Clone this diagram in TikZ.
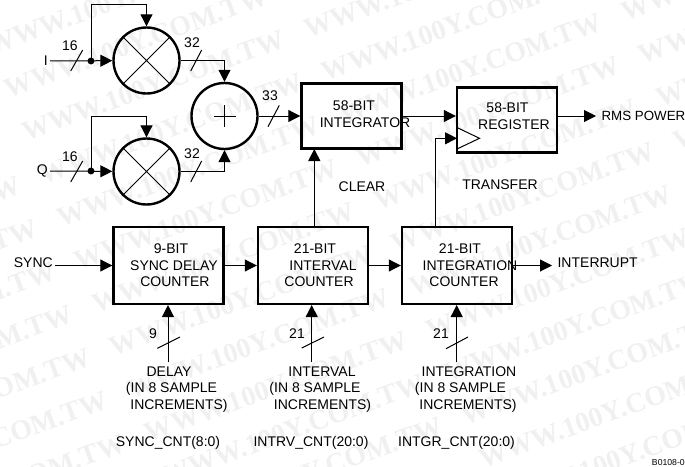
\documentclass[tikz,border=0pt]{standalone}
\usepackage{fontspec}
\setmainfont{Liberation Sans}
\newfontfamily\markfont{Liberation Serif}
\usetikzlibrary{arrows.meta}
\definecolor{markgray}{HTML}{F0F0F0}
\tikzset{
  blk/.style={draw,line width=1.8pt,inner sep=0pt},
  sumcirc/.style={draw,circle,line width=1.8pt,minimum size=49.5pt,inner sep=0pt},
  lbl/.style={inner sep=1.5pt},
  sig/.style={-{Triangle[length=9pt,width=9pt]},line width=.75pt},
  wire/.style={line width=.75pt},
  wmark/.style={markgray,rotate=20,anchor=west,inner sep=0pt,font=\markfont\bfseries\fontsize{21pt}{24pt}\selectfont}
}
\begin{document}
\begin{tikzpicture}[x=.75pt,y=-.75pt,font=\fontsize{10.5pt}{12pt}\selectfont]
  \useasboundingbox (0,0) rectangle (685,467);
  % background marks
  \begin{scope}
    \clip (0,0) rectangle (685,467);
    \foreach \col/\rowlo/\rowhi in {-2/0/7,-1/-3/9,0/0/11,1/2/5} {
      \foreach \row in {\rowlo,...,\rowhi} {
        \node[wmark] at ({305+\col*282+\row*17.5},{30-\col*103+\row*43}) {WWW.100Y.COM.TW};
      }
    }
  \end{scope}
  % blocks
  \node[sumcirc] (mulI) at (146.5,60.5) {};
  \node[sumcirc] (mulQ) at (146.5,171.5) {};
  \node[sumcirc] (addIQ) at (224.5,116) {};
  \node[blk,minimum width=75pt,minimum height=49pt] (integ) at (351.5,116) {};
  \node[blk,minimum width=75pt,minimum height=49pt] (reg) at (507,120) {};
  \node[blk,minimum width=82.5pt,minimum height=57.5pt] (syncCnt) at (168.5,265.5) {};
  \node[blk,minimum width=82.5pt,minimum height=57.5pt] (intvCnt) at (313,265.5) {};
  \node[blk,minimum width=82.5pt,minimum height=57.5pt] (intgCnt) at (457,265.5) {};
  % crosses and plus
  \draw[wire] (mulI.north west) -- (mulI.south east) (mulI.north east) -- (mulI.south west);
  \draw[wire] (mulQ.north west) -- (mulQ.south east) (mulQ.north east) -- (mulQ.south west);
  \draw[wire] (addIQ) ++(-11,0) -- ++(22,0) (addIQ) ++(0,-11) -- ++(0,22);
  % clock input
  \coordinate (clkA) at (457,127.5);
  \coordinate (clkB) at (457,149);
  \coordinate (clkC) at (479.5,138.3);
  \draw[wire] (clkA) -- (clkC) -- (clkB);
  % texts in the blocks
  \node[lbl] (integA) at (354,106) {58-BIT};
  \node[lbl] (integB) at (365,123) {INTEGRATOR};
  \node[lbl] (regA) at (507.5,107.5) {58-BIT};
  \node[lbl] (regB) at (514,125) {REGISTER};
  \node[lbl] (syncA) at (171,249) {9-BIT};
  \node[lbl] (syncB) at (174,266) {SYNC DELAY};
  \node[lbl] (syncC) at (175,282) {COUNTER};
  \node[lbl] (intvA) at (315,249) {21-BIT};
  \node[lbl] (intvB) at (323,266) {INTERVAL};
  \node[lbl] (intvC) at (319,282) {COUNTER};
  \node[lbl] (intgA) at (460,249) {21-BIT};
  \node[lbl] (intgB) at (470,266) {INTEGRATION};
  \node[lbl] (intgC) at (464,282) {COUNTER};
  % inputs and outputs
  \node[lbl,anchor=east] (inI) at (50,61) {I};
  \node[lbl,anchor=east] (inQ) at (50,171) {Q};
  \node[lbl,anchor=east] (inSync) at (55,263) {SYNC};
  \node[anchor=west,inner sep=4pt,font=\fontsize{10pt}{12pt}\selectfont] (outRms) at (596,116) {RMS POWER};
  \node[anchor=west,inner sep=4pt] (outInt) at (552,263) {INTERRUPT};
  \node[lbl] (txtClear) at (362,187) {CLEAR};
  \node[lbl] (txtTrans) at (500,185) {TRANSFER};
  % dots and corners
  \fill (91,61) circle (2.6pt) coordinate (dotI);
  \fill (91,171) circle (2.6pt) coordinate (dotQ);
  \coordinate (topI) at (91,5);
  \coordinate (topQ) at (91,116);
  \coordinate (slotTrans) at (435,226.7);
  \coordinate (clrFrom) at (314.3,226.7);
  \coordinate (clrTo) at (314.3,149);
  % connectors
  \draw[sig] (inI) -- (mulI);
  \draw[sig] (inQ) -- (mulQ);
  \draw[sig] (dotI) -- (topI) -| (mulI.north);
  \draw[sig] (dotQ) -- (topQ) -| (mulQ.north);
  \draw[sig] (mulI.east) -| (addIQ.north);
  \draw[sig] (mulQ.east) -| (addIQ.south);
  \draw[sig] (addIQ) -- (integ);
  \draw[sig] (integ.east) -- (integ.east -| reg.west);
  \draw[sig] (outRms.west -| reg.east) -- (outRms.west);
  \draw[sig] (slotTrans) |- (clkA |- clkC);
  \draw[sig] (clrFrom) -- (clrTo);
  \draw[sig] (inSync.east |- syncCnt) -- (syncCnt);
  \draw[sig] (syncCnt) -- (intvCnt);
  \draw[sig] (intvCnt) -- (intgCnt);
  \draw[sig] (intgCnt.east) -- (outInt.west |- intgCnt.east);
  % bottom inputs
  \node[lbl] (delA) at (169,372) {DELAY};
  \node[lbl] (delB) at (171.5,389) {(IN 8 SAMPLE};
  \node[lbl] (delC) at (179,406) {INCREMENTS)};
  \node[lbl] (delD) at (168,443) {SYNC\_CNT(8:0)};
  \node[lbl] (ivlA) at (322,372) {INTERVAL};
  \node[lbl] (ivlB) at (315,389) {(IN 8 SAMPLE};
  \node[lbl] (ivlC) at (322.5,406) {INCREMENTS)};
  \node[lbl] (ivlD) at (311,443) {INTRV\_CNT(20:0)};
  \node[lbl] (itgA) at (469,372) {INTEGRATION};
  \node[lbl] (itgB) at (460.5,389) {(IN 8 SAMPLE};
  \node[lbl] (itgC) at (468,406) {INCREMENTS)};
  \node[lbl] (itgD) at (456.5,443) {INTGR\_CNT(20:0)};
  \node[anchor=east,font=\fontsize{6.5pt}{8pt}\selectfont,inner sep=0pt] (figId) at (685,463) {B0108-0};
  \coordinate (delIn) at (168,361.7);
  \coordinate (ivlIn) at (311.7,361.7);
  \coordinate (itgIn) at (456.7,361.7);
  \draw[sig] (delIn) -- (delIn |- syncCnt.south);
  \draw[sig] (ivlIn) -- (ivlIn |- intvCnt.south);
  \draw[sig] (itgIn) -- (itgIn |- intgCnt.south);
  % bus marks
  \foreach \xa/\ya/\xb/\yb/\val/\xl/\yl in {
    70.7/71/82.7/50/16/70/46, 70.7/182/82.7/161/16/70/157,
    190.7/71/201.7/50/32/192/43, 190.7/182/201.7/161/32/192/154,
    268/126.7/279.3/105.3/33/270/96, 157.3/348.3/180/337/9/153/334,
    301.7/348/324/337/21/297/334, 446/348.7/468/337/21/441/334} {
    \draw[wire] (\xa,\ya) -- (\xb,\yb);
    \node[lbl] at (\xl,\yl) {\val};
  }
\end{tikzpicture}
\end{document}
